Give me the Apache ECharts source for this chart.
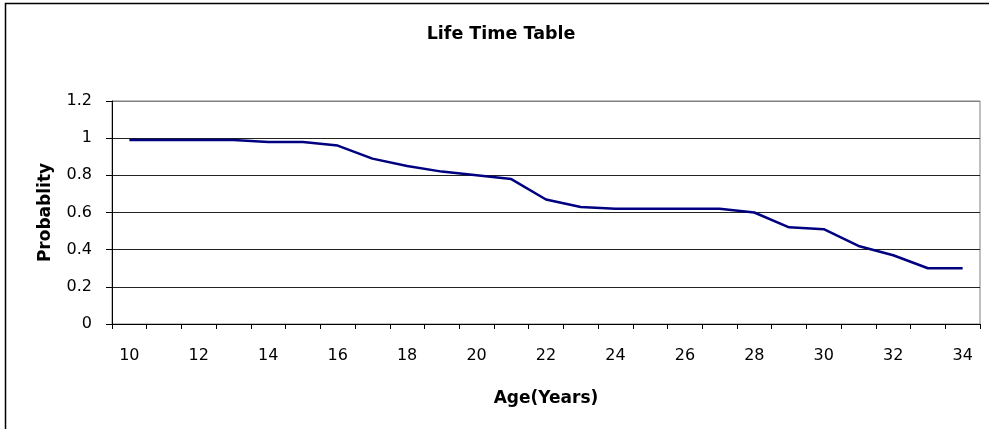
<!DOCTYPE html>
<html>
<head>
<meta charset="utf-8">
<script src="https://cdn.jsdelivr.net/npm/echarts@6/dist/echarts.min.js"></script>
<style>
html,body{margin:0;padding:0;background:#fff;}
#c{width:989px;height:429px;}
</style>
</head>
<body>
<div id="c"></div>
<script>
var ages = [10,11,12,13,14,15,16,17,18,19,20,21,22,23,24,25,26,27,28,29,30,31,32,33,34];
var probability = [0.99,0.99,0.99,0.99,0.98,0.98,0.96,0.89,0.85,0.82,0.80,0.78,0.67,0.63,0.62,0.62,0.62,0.62,0.60,0.52,0.51,0.42,0.37,0.30,0.30];
var yTicks = [0,0.2,0.4,0.6,0.8,1,1.2];

var chart = echarts.init(document.getElementById('c'), null, {renderer:'canvas'});
var font = '"DejaVu Sans", "Liberation Sans", Arial, sans-serif';
chart.setOption({
  animation:false,
  backgroundColor:'#fff',
  title:{
    text:'Life Time Table',
    left:496, top:20, textAlign:'center',
    textStyle:{fontFamily:font,fontSize:17.5,fontWeight:'bold',color:'#000'}
  },
  graphic:[{
    type:'rect', shape:{x:5.5,y:3.5,width:1100,height:600},
    style:{fill:null,stroke:'#000',lineWidth:1.5}, silent:true, z:-1
  }],
  grid:{left:112,right:9,top:101,bottom:105,show:true,borderColor:'#808080',borderWidth:1,backgroundColor:'transparent'},
  xAxis:{
    type:'category',
    data:ages,
    boundaryGap:true,
    name:'Age(Years)',
    nameLocation:'middle',
    nameGap:66,
    nameTextStyle:{fontFamily:font,fontSize:17,fontWeight:'bold',color:'#000'},
    axisLine:{lineStyle:{color:'#000',width:1}},
    axisTick:{show:true,interval:0,alignWithLabel:false,length:5,lineStyle:{color:'#000'}},
    axisLabel:{interval:1,margin:24,fontFamily:font,fontSize:16,color:'#000'},
    splitLine:{show:false}
  },
  yAxis:{
    type:'value',
    min:0,max:1.2,interval:0.2,
    name:'Probablity',
    nameLocation:'middle',
    nameGap:58,
    nameRotate:90,
    nameTextStyle:{fontFamily:font,fontSize:17,fontWeight:'bold',color:'#000'},
    axisLine:{show:true,lineStyle:{color:'#000',width:1}},
    axisTick:{show:true,length:6,lineStyle:{color:'#000'}},
    axisLabel:{margin:20,fontFamily:font,fontSize:16,color:'#000',
      formatter:function(v){return String(Math.round(v*10)/10);}},
    splitLine:{show:true,lineStyle:{color:['#000','#222','#222','#222','#222','#222','#808080'],width:1}}
  },
  series:[{
    type:'line',
    data:probability,
    showSymbol:false,
    symbol:'none',
    lineStyle:{color:'#000080',width:2.5},
    itemStyle:{color:'#000080'}
  }]
});
</script>
</body>
</html>
